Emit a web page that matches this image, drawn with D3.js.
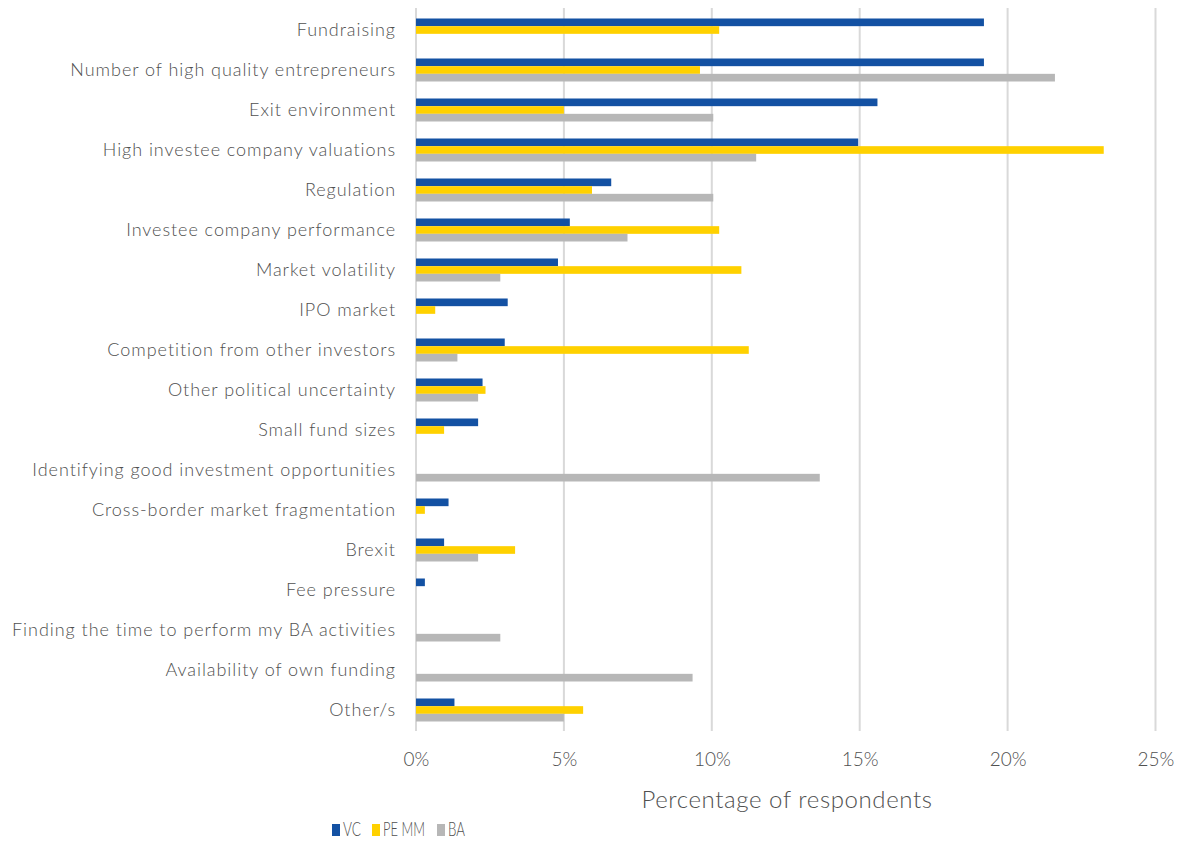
<!DOCTYPE html>
<html>
<head>
<meta charset="utf-8">
<script src="https://cdn.jsdelivr.net/npm/d3@7"></script>
<style>
  body { margin: 0; background: #fff; }
  svg text { font-family: "Lato", "Open Sans", sans-serif; fill: #595959; }
</style>
</head>
<body>
<div id="chart"></div>
<script>
var categories = [
  "Fundraising",
  "Number of high quality entrepreneurs",
  "Exit environment",
  "High investee company valuations",
  "Regulation",
  "Investee company performance",
  "Market volatility",
  "IPO market",
  "Competition from other investors",
  "Other political uncertainty",
  "Small fund sizes",
  "Identifying good investment opportunities",
  "Cross-border market fragmentation",
  "Brexit",
  "Fee pressure",
  "Finding the time to perform my BA activities",
  "Availability of own funding",
  "Other/s"
];
var seriesNames = ["VC", "PE MM", "BA"];
var seriesColors = ["#1351a3", "#ffd100", "#b7b7b7"];

// percentages, null = no bar
var vcValues   = [19.2, 19.2, 15.6, 14.95, 6.6, 5.2, 4.8, 3.1, 3.0, 2.25, 2.1, null, 1.1, 0.95, 0.3, null, null, 1.3];
var pemmValues = [10.25, 9.6, 5.0, 23.25, 5.95, 10.25, 11.0, 0.65, 11.25, 2.35, 0.95, null, 0.3, 3.35, null, null, null, 5.65];
var baValues   = [null, 21.6, 10.05, 11.5, 10.05, 7.15, 2.85, null, 1.4, 2.1, null, 13.65, null, 2.1, null, 2.85, 9.35, 5.0];
var xTicks = [0, 5, 10, 15, 20, 25];

var allValues = [vcValues, pemmValues, baValues];

var width = 1186, height = 841;
var svg = d3.select("#chart").append("svg")
    .attr("width", width)
    .attr("height", height);

var x = d3.scaleLinear().domain([0, 25]).range([416, 1155.5]);
var y = d3.scaleBand().domain(categories).range([10, 730])
    .paddingInner(0.425).paddingOuter(0.2125);
var ySub = d3.scaleBand().domain(seriesNames).range([0, y.bandwidth()]);

// gridlines
svg.append("g")
    .selectAll("line")
    .data(xTicks)
  .enter().append("line")
    .attr("x1", function(d) { return x(d); })
    .attr("x2", function(d) { return x(d); })
    .attr("y1", 8)
    .attr("y2", 731)
    .style("stroke", "#d9d9d9")
    .style("stroke-width", 2);

// bars
var groups = svg.append("g").selectAll("g")
    .data(categories)
  .enter().append("g")
    .attr("transform", function(d) { return "translate(0," + y(d) + ")"; });

groups.selectAll("rect")
    .data(function(d, i) {
      return seriesNames.map(function(s, j) { return {series: s, idx: j, value: allValues[j][i]}; })
        .filter(function(e) { return e.value !== null; });
    })
  .enter().append("rect")
    .attr("x", x(0))
    .attr("y", function(d) { return ySub(d.series); })
    .attr("width", function(d) { return x(d.value) - x(0); })
    .attr("height", ySub.bandwidth())
    .style("fill", function(d) { return seriesColors[d.idx]; });

// category labels
svg.append("g")
    .attr("transform", "translate(396,0)")
    .call(d3.axisLeft(y).tickSize(0).tickPadding(0))
    .call(function(g) { g.select(".domain").remove(); })
    .selectAll("text")
    .style("font-size", "18px")
    .style("font-weight", 300)
    .style("letter-spacing", "0.95px")
    .style("fill", "#505050")
    .attr("dy", "0.32em");

// x axis labels
svg.append("g")
    .attr("transform", "translate(0,752)")
    .call(d3.axisBottom(x).tickValues(xTicks).tickSize(0).tickPadding(0)
      .tickFormat(function(d) { return d + "%"; }))
    .call(function(g) { g.select(".domain").remove(); })
    .selectAll("text")
    .style("font-size", "19px")
    .style("font-weight", 300)
    .style("fill", "#505050");

// axis title
svg.append("text")
    .attr("x", 787)
    .attr("y", 808)
    .style("text-anchor", "middle")
    .style("font-size", "24px")
    .style("font-weight", 300)
    .style("letter-spacing", "0.6px")
    .style("fill", "#505050")
    .text("Percentage of respondents");

// legend
var legendX = [332, 372, 437];
var legendTextW = [18, 42, 17];
var legend = svg.append("g").selectAll("g")
    .data(seriesNames)
  .enter().append("g")
    .attr("transform", function(d, i) { return "translate(" + legendX[i] + ",0)"; });

legend.append("rect")
    .attr("x", 0)
    .attr("y", 824)
    .attr("width", 8)
    .attr("height", 12)
    .style("fill", function(d, i) { return seriesColors[i]; });

legend.append("text")
    .attr("x", 11)
    .attr("y", 836)
    .attr("textLength", function(d, i) { return legendTextW[i]; })
    .attr("lengthAdjust", "spacingAndGlyphs")
    .style("font-size", "19px")
    .style("font-weight", 300)
    .style("fill", "#505050")
    .text(function(d) { return d; });
</script>
</body>
</html>
